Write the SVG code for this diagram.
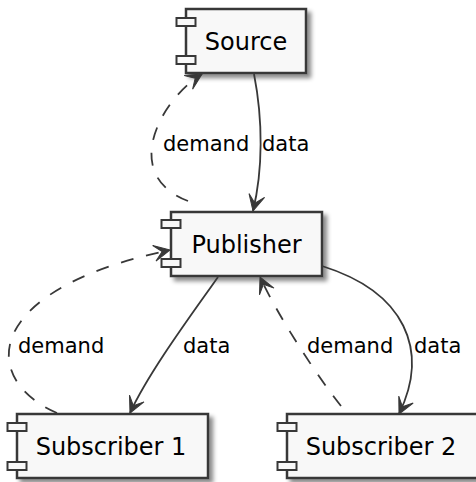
<svg xmlns="http://www.w3.org/2000/svg" width="476" height="482" viewBox="0 0 476 482">
<style>
.box{fill:#F8F8F8;stroke:#383838;stroke-width:2.5}
.tab{fill:#F8F8F8;stroke:#383838;stroke-width:2}
.name{font-family:"DejaVu Sans",sans-serif;font-size:24px;fill:#000;text-anchor:middle}
.lbl{font-family:"DejaVu Sans",sans-serif;font-size:21px;fill:#000}
.edge{fill:none;stroke:#383838;stroke-width:1.8}
.dash{stroke-dasharray:13,13}
</style>
<defs>
<filter id="sh" x="-10%" y="-10%" width="130%" height="140%">
<feDropShadow dx="4" dy="4" stdDeviation="2" flood-color="#000" flood-opacity="0.45"/>
</filter>
<marker id="ah" markerUnits="userSpaceOnUse" orient="auto" markerWidth="20" markerHeight="20" refX="0" refY="0" overflow="visible">
<path d="M0,0 L-16,-8 L-8,0 L-16,8 Z" fill="#383838" stroke="#383838" stroke-width="1" stroke-dasharray="none"/>
</marker>
</defs>
<g id="source">
<rect class="box" x="186" y="9" width="120" height="64" filter="url(#sh)"/>
<rect class="tab" x="176.5" y="18" width="19" height="8"/>
<rect class="tab" x="176.5" y="56" width="19" height="8"/>
<text class="name" x="246" y="50">Source</text>
</g>
<g id="publisher">
<rect class="box" x="171" y="212" width="151" height="64" filter="url(#sh)"/>
<rect class="tab" x="161.5" y="220" width="19" height="8"/>
<rect class="tab" x="161.5" y="259" width="19" height="8"/>
<text class="name" x="246.5" y="253">Publisher</text>
</g>
<g id="subscriber1">
<rect class="box" x="17" y="414" width="191" height="64" filter="url(#sh)"/>
<rect class="tab" x="7.5" y="423" width="19" height="8"/>
<rect class="tab" x="7.5" y="462" width="19" height="8"/>
<text class="name" x="111" y="455">Subscriber 1</text>
</g>
<g id="subscriber2">
<rect class="box" x="287" y="414" width="191" height="64" filter="url(#sh)"/>
<rect class="tab" x="277.5" y="423" width="19" height="8"/>
<rect class="tab" x="277.5" y="462" width="19" height="8"/>
<text class="name" x="381" y="455">Subscriber 2</text>
</g>
<g id="connectors">
<path class="edge" d="M254,74 C263,120 263,170 253,211" marker-end="url(#ah)"/>
<path class="edge dash" d="M188,201 C120,175 160,100 202,74" marker-end="url(#ah)"/>
<path class="edge" d="M218,277 C195,310 150,370 130,413" marker-end="url(#ah)"/>
<path class="edge dash" d="M57,413 C-20,380 -20,290 170,250" marker-end="url(#ah)"/>
<path class="edge" d="M322,266 C405,292 430,350 399,414" marker-end="url(#ah)"/>
<path class="edge dash" d="M341,406 C320,380 280,320 260,277" marker-end="url(#ah)"/>
<text class="lbl" x="163" y="151">demand</text>
<text class="lbl" x="262" y="151">data</text>
<text class="lbl" x="18" y="353">demand</text>
<text class="lbl" x="183" y="353">data</text>
<text class="lbl" x="307" y="353">demand</text>
<text class="lbl" x="414" y="353">data</text>
</g>
</svg>
